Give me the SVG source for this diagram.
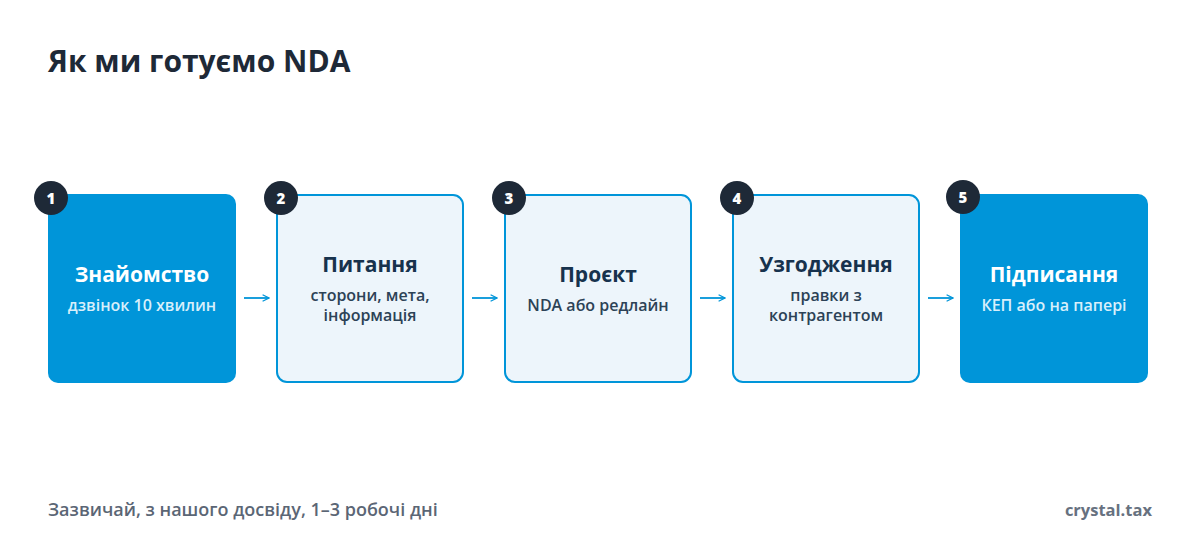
<svg xmlns="http://www.w3.org/2000/svg" width="1200" height="560" viewBox="0 0 1200 560">
<defs>
<style>
text{font-family:"Open Sans","Noto Sans","Liberation Sans",sans-serif}
.title{font-size:30px;font-weight:700;fill:#1e2937}
.foot{font-size:18px;font-weight:600;fill:#5b6675}
.brand{font-size:16.5px;font-weight:700;fill:#677180}
.bx-dark{fill:#0095d9}
.bx-light{fill:#edf5fb;stroke:#0095d9;stroke-width:2}
.h-dark{font-size:21px;font-weight:700;fill:#ffffff;text-anchor:middle}
.s-dark{font-size:16px;font-weight:600;fill:#d8effb;text-anchor:middle}
.h-light{font-size:21px;font-weight:700;fill:#17324d;text-anchor:middle}
.s-light{font-size:16px;font-weight:600;fill:#2c4256;text-anchor:middle}
.badge{fill:#1e2937}
.num{font-size:15px;font-weight:800;fill:#ffffff;text-anchor:middle}
.conn{stroke:#0095d9;stroke-width:1.8;fill:none}
</style>
<marker id="ah" viewBox="0 0 10 10" refX="9" refY="5" markerWidth="8" markerHeight="8" markerUnits="userSpaceOnUse" orient="auto">
<path d="M1,1 L9,5 L1,9" fill="none" stroke="#0095d9" stroke-width="1.6"/>
</marker>
</defs>
<rect width="1200" height="560" fill="#ffffff"/>
<text class="title" x="48" y="72">Як ми готуємо NDA</text>

<g id="connectors">
<line class="conn" x1="244" y1="298" x2="269" y2="298" marker-end="url(#ah)"/>
<line class="conn" x1="472" y1="298" x2="497" y2="298" marker-end="url(#ah)"/>
<line class="conn" x1="700" y1="298" x2="725" y2="298" marker-end="url(#ah)"/>
<line class="conn" x1="928" y1="298" x2="953" y2="298" marker-end="url(#ah)"/>
</g>

<g id="node1">
<rect class="bx-dark" x="48" y="194" width="188" height="189" rx="10"/>
<text class="h-dark" x="142" y="282">Знайомство</text>
<text class="s-dark" x="142" y="311">дзвінок 10 хвилин</text>
<circle class="badge" cx="51" cy="198" r="17"/>
<text class="num" x="51" y="203.5">1</text>
</g>

<g id="node2">
<rect class="bx-light" x="277" y="195" width="186" height="187" rx="10"/>
<text class="h-light" x="370" y="272">Питання</text>
<text class="s-light" x="370" y="301">сторони, мета,</text>
<text class="s-light" x="370" y="321">інформація</text>
<circle class="badge" cx="281" cy="198" r="17"/>
<text class="num" x="281" y="203.5">2</text>
</g>

<g id="node3">
<rect class="bx-light" x="505" y="195" width="186" height="187" rx="10"/>
<text class="h-light" x="598" y="282">Проєкт</text>
<text class="s-light" x="598" y="311">NDA або редлайн</text>
<circle class="badge" cx="509" cy="198" r="17"/>
<text class="num" x="509" y="203.5">3</text>
</g>

<g id="node4">
<rect class="bx-light" x="733" y="195" width="186" height="187" rx="10"/>
<text class="h-light" x="826" y="272">Узгодження</text>
<text class="s-light" x="826" y="301">правки з</text>
<text class="s-light" x="826" y="321">контрагентом</text>
<circle class="badge" cx="737" cy="198" r="17"/>
<text class="num" x="737" y="203.5">4</text>
</g>

<g id="node5">
<rect class="bx-dark" x="960" y="194" width="188" height="189" rx="10"/>
<text class="h-dark" x="1054" y="282">Підписання</text>
<text class="s-dark" x="1054" y="311">КЕП або на папері</text>
<circle class="badge" cx="963" cy="197" r="17"/>
<text class="num" x="963" y="202.5">5</text>
</g>

<text class="foot" x="48" y="516">Зазвичай, з нашого досвіду, 1–3 робочі дні</text>
<text class="brand" x="1152" y="516" text-anchor="end">crystal.tax</text>
</svg>
